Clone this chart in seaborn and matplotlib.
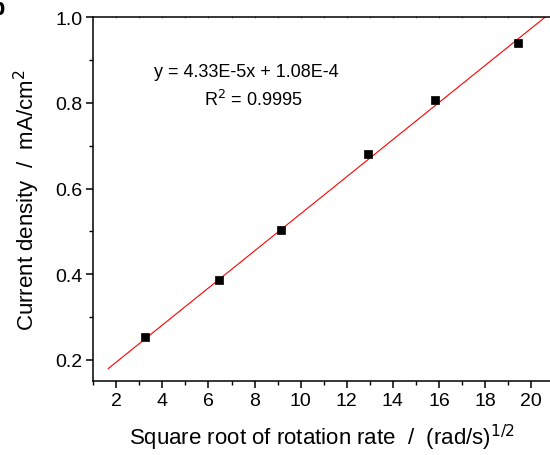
import matplotlib
matplotlib.use("Agg")
import matplotlib.pyplot as plt
import seaborn as sns
import numpy as np
import pandas as pd
from matplotlib.ticker import MultipleLocator

sns.set_theme(style="ticks")
plt.rcParams["font.family"] = ["Liberation Sans", "DejaVu Sans"]
plt.rcParams["text.color"] = "black"
plt.rcParams["axes.labelcolor"] = "black"

# Levich data: square root of rotation rate vs. limiting current density
sqrt_omega = [3.24, 6.47, 9.15, 12.94, 15.85, 19.42]
current_density = [0.252, 0.386, 0.504, 0.680, 0.807, 0.941]

# Linear fit parameters (mA/cm^2 units)
slope = 0.0433
intercept = 0.108
fit_x = [1.64, 21.0]

x_ticks = [2, 4, 6, 8, 10, 12, 14, 16, 18, 20]
y_ticks = [0.2, 0.4, 0.6, 0.8, 1.0]

df = pd.DataFrame({"x": sqrt_omega, "y": current_density})
fit_df = pd.DataFrame({"x": fit_x, "y": [intercept + slope * v for v in fit_x]})

fig = plt.figure(figsize=(5.5, 4.56), dpi=100)
ax = fig.add_axes([0.1696, 0.1629, 1.0 - 0.1696, 0.9599 - 0.1629])

sns.lineplot(data=fit_df, x="x", y="y", ax=ax, color="#ff0000", linewidth=0.8)
sns.scatterplot(data=df, x="x", y="y", ax=ax, marker="s", s=30, color="black",
                edgecolor="black", linewidth=0.5, zorder=3)

ax.set_xlim(1.0, 20.82)
ax.set_ylim(0.151, 1.0)
ax.set_xticks(x_ticks)
ax.set_yticks(y_ticks)
ax.set_yticklabels([f"{v:.1f}" for v in y_ticks])
ax.xaxis.set_minor_locator(MultipleLocator(1))
ax.yaxis.set_minor_locator(MultipleLocator(0.1))

for side in ["left", "bottom", "top"]:
    ax.spines[side].set_linewidth(1.1)
    ax.spines[side].set_color("black")
ax.spines["right"].set_visible(False)

ax.tick_params(axis="both", which="major", direction="out", length=5, width=1.1,
               labelsize=14, colors="black", pad=3)
ax.tick_params(axis="both", which="minor", direction="out", length=2.8, width=1.0,
               colors="black")
# faint marks along the top frame line
ax2 = ax.secondary_xaxis("top")
ax2.set_xticks(range(2, 21))
ax2.tick_params(axis="x", which="major", direction="inout", length=2, width=0.6,
                colors="#888888", labeltop=False)
ax2.spines["top"].set_visible(False)
ax.tick_params(axis="x", which="both", top=False)

ax.set_xlabel("Square root of rotation rate  /  (rad/s)$^{1/2}$", fontsize=16, labelpad=9)
ax.set_ylabel("Current density  /  mA/cm$^{2}$", fontsize=16, labelpad=9)

ax.text(0.335, 0.852, "y = 4.33E-5x + 1.08E-4", transform=ax.transAxes,
        ha="center", va="center", fontsize=13)
ax.text(0.35, 0.775, "R$^{2}$ = 0.9995", transform=ax.transAxes,
        ha="center", va="center", fontsize=13)

# panel letter, partly beyond the figure's top-left corner
fig.text(-0.017, 0.967, "b", fontsize=17, fontweight="bold", ha="left", va="baseline")

fig.savefig("out.png", dpi=100)
